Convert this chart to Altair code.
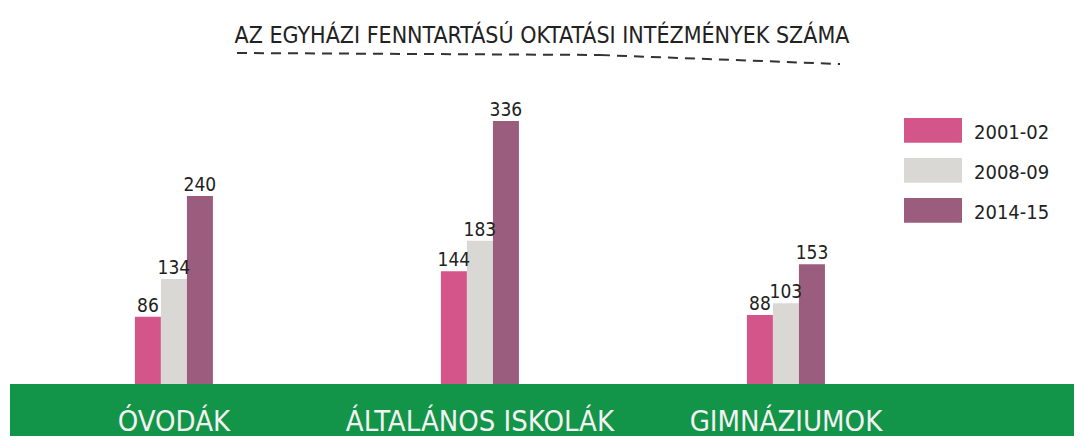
import altair as alt
import pandas as pd

categories = ["ÓVODÁK", "ÁLTALÁNOS ISKOLÁK", "GIMNÁZIUMOK"]
years = ["2001-02", "2008-09", "2014-15"]
values_2001 = [86, 144, 88]
values_2008 = [134, 183, 103]
values_2014 = [240, 336, 153]
colors = ["#D3558A", "#D9D8D4", "#9A5D7E"]

title_text = "AZ EGYHÁZI FENNTARTÁSÚ OKTATÁSI INTÉZMÉNYEK SZÁMA"
FONT = "Liberation Sans Narrow, DejaVu Sans Condensed, Roboto Condensed, sans-serif"

rows = []
for yr, vals in zip(years, [values_2001, values_2008, values_2014]):
    for c, v in zip(categories, vals):
        rows.append({"category": c, "year": yr, "value": v})
df = pd.DataFrame(rows)
cat_df = pd.DataFrame({"category": categories})

x_enc = alt.X("category:N", sort=categories, axis=None,
              scale=alt.Scale(paddingInner=0.745, paddingOuter=0.611, align=0.334))
xoff = alt.XOffset("year:N", sort=years, scale=alt.Scale(paddingInner=0, paddingOuter=0))
y_scale = alt.Scale(domain=[-66.4, 388.3], nice=False, zero=False)

band = alt.Chart(pd.DataFrame({"v": [0]})).mark_rect(color="#129548").encode(
    x=alt.value(0), x2=alt.value("width"),
    y=alt.datum(0, scale=y_scale, axis=None), y2=alt.value("height"),
)

bars = alt.Chart(df).mark_bar().encode(
    x=x_enc, xOffset=xoff,
    y=alt.Y("value:Q", scale=y_scale, axis=None),
    color=alt.Color("year:N", sort=years, scale=alt.Scale(domain=years, range=colors),
                    legend=alt.Legend(orient="none", legendX=894, legendY=24, title=None,
                                      symbolType="M-1,-0.52H1V0.34H-1Z", symbolSize=3364,
                                      symbolStrokeWidth=0, symbolOpacity=1,
                                      labelFont=FONT, labelFontSize=20, labelColor="#222",
                                      labelOffset=12, rowPadding=1)),
)

bar_labels = alt.Chart(df).mark_text(baseline="bottom", dy=-1, font=FONT, fontSize=19,
                                      color="#222").encode(
    x=x_enc, xOffset=xoff,
    y=alt.Y("value:Q", scale=y_scale, axis=None),
    text="value:Q",
)

cat_labels = alt.Chart(cat_df).mark_text(baseline="alphabetic", font=FONT, fontSize=29,
                                          color="#F2F2F2").encode(
    x=x_enc,
    y=alt.datum(-60, scale=y_scale, axis=None),
    text="category:N",
)

dash1 = alt.Chart(pd.DataFrame({"v": [0]})).mark_rule(strokeDash=[10, 7], strokeWidth=2,
                                                       color="#333").encode(
    x=alt.value(227), x2=alt.value(590), y=alt.value(-27), y2=alt.value(-25))
dash2 = alt.Chart(pd.DataFrame({"v": [0]})).mark_rule(strokeDash=[10, 7], strokeWidth=2,
                                                       color="#333").encode(
    x=alt.value(590), x2=alt.value(830), y=alt.value(-25), y2=alt.value(-16))

chart = alt.layer(band, bars, bar_labels, cat_labels, dash1, dash2).properties(
    width=1064, height=356,
    padding={"left": 2, "right": 0, "top": 17, "bottom": 0},
    title=alt.TitleParams(title_text, font=FONT, fontSize=23, fontWeight="normal",
                          color="#222", anchor="middle", offset=4),
).configure_view(stroke=None)

chart.save("out.html", embed_options={"renderer": "svg", "actions": False})
